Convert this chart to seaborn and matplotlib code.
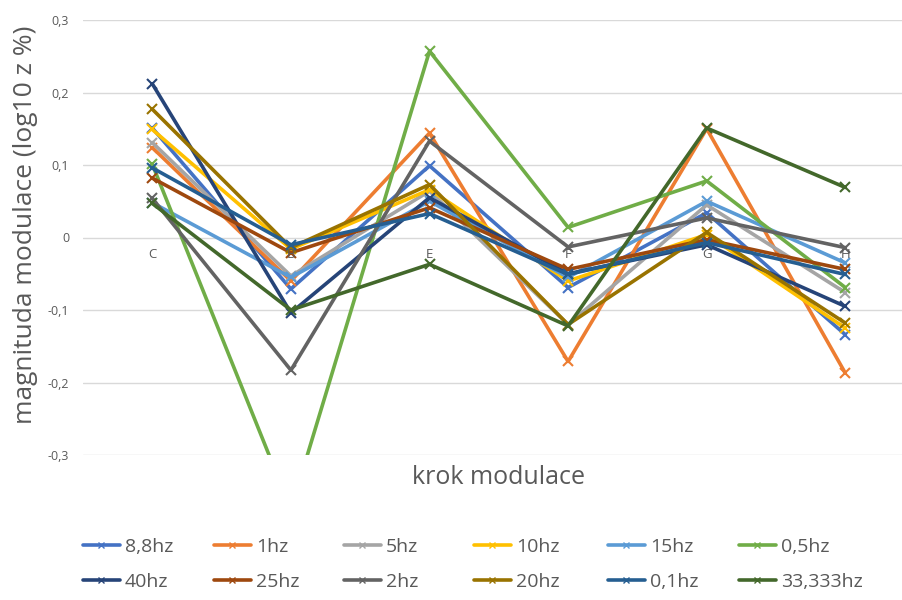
import matplotlib
matplotlib.use("Agg")
import matplotlib.pyplot as plt
import seaborn as sns
import pandas as pd
from matplotlib.lines import Line2D

categories = ["C", "B", "E", "F", "G", "H"]
series_names = ["8,8hz", "1hz", "5hz", "10hz", "15hz", "0,5hz",
                "40hz", "25hz", "2hz", "20hz", "0,1hz", "33,333hz"]
s_8_8hz = [0.151, -0.071, 0.099, -0.069, 0.034, -0.134]
s_1hz = [0.124, -0.060, 0.144, -0.171, 0.150, -0.187]
s_5hz = [0.131, -0.053, 0.064, -0.120, 0.045, -0.076]
s_10hz = [0.149, -0.016, 0.066, -0.060, 0.004, -0.125]
s_15hz = [0.048, -0.055, 0.050, -0.055, 0.050, -0.035]
s_0_5hz = [0.101, -0.375, 0.257, 0.014, 0.078, -0.069]
s_40hz = [0.212, -0.104, 0.055, -0.050, -0.010, -0.095]
s_25hz = [0.082, -0.021, 0.041, -0.044, -0.003, -0.044]
s_2hz = [0.054, -0.183, 0.133, -0.013, 0.027, -0.014]
s_20hz = [0.177, -0.014, 0.073, -0.120, 0.007, -0.118]
s_0_1hz = [0.096, -0.010, 0.033, -0.051, -0.007, -0.051]
s_33hz = [0.047, -0.100, -0.037, -0.122, 0.151, 0.069]
all_series = [s_8_8hz, s_1hz, s_5hz, s_10hz, s_15hz, s_0_5hz,
              s_40hz, s_25hz, s_2hz, s_20hz, s_0_1hz, s_33hz]
colors = ["#4472C4", "#ED7D31", "#A5A5A5", "#FFC000", "#5B9BD5", "#70AD47",
          "#264478", "#9E480E", "#636363", "#997300", "#255E91", "#43682B"]
y_ticks = [-0.3, -0.2, -0.1, 0.0, 0.1, 0.2, 0.3]

rows = []
for name, vals in zip(series_names, all_series):
    for i, (c, v) in enumerate(zip(categories, vals)):
        rows.append({"series": name, "pos": i, "cat": c, "value": v})
df = pd.DataFrame(rows)

sns.set_theme(style="white")
plt.rcParams["font.family"] = ["Open Sans", "DejaVu Sans"]
text_color = "#595959"

fig = plt.figure(figsize=(9.02, 6.0), dpi=100)
ax = fig.add_axes([83 / 902, 1 - 455 / 600, (902 - 83) / 902, 435 / 600])

palette = dict(zip(series_names, colors))
sns.lineplot(data=df, x="pos", y="value", hue="series", hue_order=series_names,
             palette=palette, marker="x", markersize=7, markeredgewidth=1.5,
             linewidth=2.6, ax=ax, legend=False, sort=False, estimator=None)
for ln in ax.lines:
    ln.set_markeredgecolor(ln.get_color())
    ln.set_markerfacecolor(ln.get_color())

ax.set_ylim(-0.3, 0.3)
ax.set_xlim(-0.5, -0.5 + (902 - 83) / 138.6)
ax.set_yticks(y_ticks)
ax.set_yticklabels([("0" if abs(t) < 1e-9 else f"{t:.1f}".replace(".", ",")) for t in y_ticks],
                   color=text_color, fontsize=9)
ax.set_xticks([])
ax.tick_params(axis="y", length=0, pad=10)
ax.yaxis.grid(True, color="#D9D9D9", linewidth=1)
ax.set_axisbelow(True)
for sp in ax.spines.values():
    sp.set_visible(False)

for i, c in enumerate(categories):
    ax.annotate(c, xy=(i, 0), xytext=(0, -12.5), textcoords="offset points",
                ha="center", va="center", fontsize=9.5, color=text_color)

ax.set_xlabel("")
ax.set_ylabel("")
fig.text(26 / 902, 1 - 225 / 600, "magnituda modulace (log10 z %)", rotation=90,
         ha="center", va="center", fontsize=19, color=text_color)
fig.text(498 / 902, 1 - 477 / 600, "krok modulace", ha="center", va="center",
         fontsize=18, color=text_color)

handles = [Line2D([], [], color=col, linewidth=2.6, marker="x", markersize=5,
                  markeredgewidth=1.0) for col in colors]
col_x = [83, 214, 344, 474, 608, 739]
for j in range(6):
    fig.legend(handles=[handles[j], handles[j + 6]],
               labels=[series_names[j], series_names[j + 6]],
               loc="upper left", bbox_to_anchor=(col_x[j] / 902, 1 - 538 / 600),
               frameon=False, prop={"size": 14},
               labelcolor=text_color,
               handlelength=1.9, handletextpad=0.25, labelspacing=0.86,
               borderpad=0, borderaxespad=0)

fig.savefig("out.png", dpi=100)
